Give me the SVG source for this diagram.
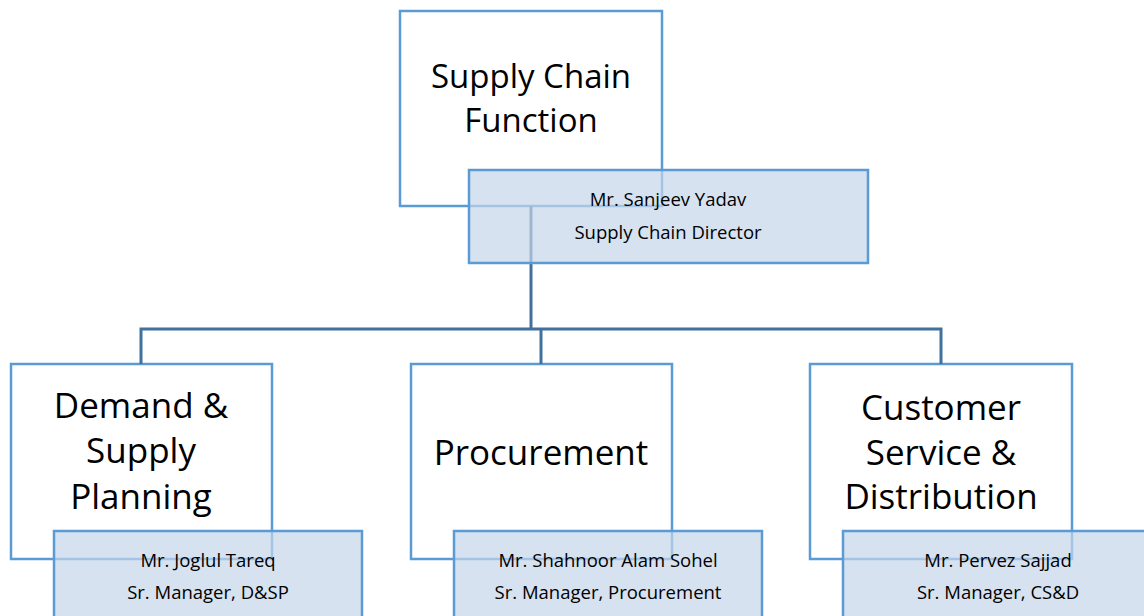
<svg xmlns="http://www.w3.org/2000/svg" width="1144" height="616" viewBox="0 0 1144 616">
<style>
.frame{fill:#ffffff;stroke:#5b9bd5;stroke-width:2.5}
.tag{fill:#c5d5ea;fill-opacity:0.7;stroke:#5b9bd5;stroke-width:2.5}
.conn{fill:none;stroke:#41719c;stroke-width:3}
.title{font-family:"Open Sans","Liberation Sans",sans-serif;font-size:33px;fill:#000;text-anchor:middle}
.big{font-size:35px}
.sub{font-family:"Open Sans","Liberation Sans",sans-serif;font-size:18.5px;fill:#000;text-anchor:middle}
</style>
<rect width="1144" height="616" fill="#ffffff"/>
<g id="frames">
<rect class="frame" x="400" y="11" width="262" height="195"/>
<rect class="frame" x="11" y="364" width="261" height="195"/>
<rect class="frame" x="411" y="364" width="261" height="195"/>
<rect class="frame" x="810" y="364" width="262" height="195"/>
</g>
<g id="connectors">
<path class="conn" d="M531 206 V329"/>
<path class="conn" d="M141 364 V329 H941 V364"/>
<path class="conn" d="M541 329 V364"/>
</g>
<g id="node-scf">
<text class="title" x="531" y="88">Supply Chain</text>
<text class="title" x="531" y="132">Function</text>
<rect class="tag" x="469" y="170" width="399" height="93"/>
<text class="sub" x="668" y="206">Mr. Sanjeev Yadav</text>
<text class="sub" x="668" y="239">Supply Chain Director</text>
</g>
<g id="node-dsp">
<text class="title big" x="141" y="418">Demand &amp;</text>
<text class="title big" x="141" y="463">Supply</text>
<text class="title big" x="141" y="509">Planning</text>
<rect class="tag" x="54" y="531" width="308" height="93"/>
<text class="sub" x="208" y="567">Mr. Joglul Tareq</text>
<text class="sub" x="208" y="599">Sr. Manager, D&amp;SP</text>
</g>
<g id="node-proc">
<text class="title big" x="541" y="465">Procurement</text>
<rect class="tag" x="454" y="531" width="308" height="93"/>
<text class="sub" x="608" y="567">Mr. Shahnoor Alam Sohel</text>
<text class="sub" x="608" y="599">Sr. Manager, Procurement</text>
</g>
<g id="node-csd">
<text class="title big" x="941" y="420">Customer</text>
<text class="title big" x="941" y="465">Service &amp;</text>
<text class="title big" x="941" y="509">Distribution</text>
<rect class="tag" x="843" y="531" width="308" height="93"/>
<text class="sub" x="998" y="567">Mr. Pervez Sajjad</text>
<text class="sub" x="998" y="599">Sr. Manager, CS&amp;D</text>
</g>
</svg>
